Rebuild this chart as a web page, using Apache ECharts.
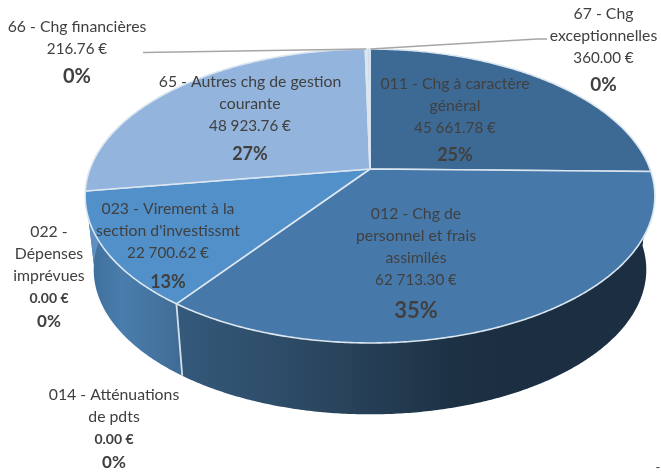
<!DOCTYPE html>
<html><head><meta charset="utf-8">
<style>html,body{margin:0;padding:0;background:#fff}#c{width:661px;height:472px}</style>
<script src="https://cdn.jsdelivr.net/npm/echarts@6/dist/echarts.min.js"></script>
</head><body><div id="c"></div>
<script>
const categories = ["011 - Chg à caractère\ngénéral","012 - Chg de\npersonnel et frais\nassimilés","014 - Atténuations\nde pdts","022 -\nDépenses\nimprévues","023 - Virement à la\nsection d'investissmt","65 - Autres chg de gestion\ncourante","66 - Chg financières","67 - Chg\nexceptionnelles"];
const values = [45661.78,62713.30,0,0,22700.62,48923.76,216.76,360.00];
const topColors = ["#3d6a94","#4679a9","#4679a9","#4679a9","#5190c9","#93b4dc","#a9c4e4","#c9d9ec"];
const labelCenters = [[455,73],[416,203],[114,384],[49,221],[168,198],[250,71],[77,16],[603.5,3]];
const pctSizes = [18,22,17,17,18,18,20,19];
const pctLines = [32,40,26,26,36,34,34,32];

const total = values.reduce((a,b)=>a+b,0);
const apex=[370,169], K=0.1837, A=280, B=142;
function rim(deg){const t=deg*Math.PI/180,u=Math.sin(t),v=-Math.cos(t),w=1-K*v;return [A*u/w,B*v/w];}
const pTop=d=>{const r=rim(d);return [apex[0]+r[0],apex[1]+r[1]];};
const pBot=d=>{const r=rim(d);return [apex[0]+0.97*r[0],243+0.985*r[1]];};
const cum=[0];values.forEach(v=>cum.push(cum[cum.length-1]+v/total*360));
function arc(a,b,f){const n=Math.max(2,Math.ceil((b-a)/0.5)),o=[];for(let i=0;i<=n;i++)o.push(f(a+(b-a)*i/n));return o;}
const seriesData=categories.map((c,i)=>({name:c.replace(/\n/g,' '),value:values[i]}));
const grad=(x1,x2,st)=>new echarts.graphic.LinearGradient(x1,0,x2,0,st,true);
const sideFills=[
 '#1c3043',
 grad(181,500,[{offset:0,color:'#34597b'},{offset:0.45,color:'#2a465f'},{offset:0.85,color:'#1d3144'},{offset:1,color:'#1c2f42'}]),
 '#4679a9','#4679a9',
 grad(90,181,[{offset:0,color:'#3f6f9c'},{offset:0.35,color:'#4a7dac'},{offset:1,color:'#3f6c96'}]),
 '#5f8fc0','#5f8fc0','#1c3043'];

function fmt(v){return v.toFixed(2).replace(/\B(?=(\d{3})+(?!\d))/g,' ')+' €';}
const fam='Lato';
const chart=echarts.init(document.getElementById('c'),null,{renderer:'canvas'});
chart.setOption({
 animation:false,
 backgroundColor:'#fff',
 series:[
 {type:'custom',coordinateSystem:'none',silent:true,z:1,data:seriesData,renderItem:(p,api)=>{
   const i=p.dataIndex;if(!api.value(0))return null;
   const a=cum[i],b=cum[i+1];
   return {type:'polygon',shape:{points:arc(a,b,pTop).concat(arc(a,b,pBot).reverse())},style:{fill:sideFills[i],stroke:null}};
 }},
 {type:'custom',coordinateSystem:'none',silent:true,z:2,data:seriesData,renderItem:(p,api)=>{
   const i=p.dataIndex;if(!api.value(0))return null;
   const a=cum[i],b=cum[i+1];
   return {type:'polygon',shape:{points:[apex].concat(arc(a,b,pTop))},style:{fill:topColors[i],stroke:'#dbe6f1',lineWidth:1.6,lineJoin:'round'}};
 }},
 {type:'custom',coordinateSystem:'none',silent:true,z:3,data:[cum[2]],renderItem:(p,api)=>{
   const d=api.value(0);
   return {type:'line',shape:{x1:pTop(d)[0],y1:pTop(d)[1],x2:pBot(d)[0],y2:pBot(d)[1]},style:{stroke:'#d5dfea',lineWidth:1.8}};
 }},
 {type:'custom',coordinateSystem:'none',silent:true,z:3,data:[(cum[6]+cum[7])/2,(cum[7]+cum[8])/2],renderItem:(p,api)=>{
   const q=pTop(api.value(0));
   const pts=p.dataIndex===0?[[143,52.5],q]:[[547,39],[537,39],[q[0]+2,q[1]]];
   return {type:'polyline',shape:{points:pts},style:{stroke:'#a6a6a6',lineWidth:1.4,fill:null}};
 }},
 {type:'custom',coordinateSystem:'none',silent:true,z:4,data:seriesData,renderItem:(p,api)=>{
   const i=p.dataIndex,v=api.value(0);
   const lines=categories[i].split('\n').map(s=>'{n|'+s+'}');
   lines.push((v?'{v|':'{z|')+fmt(v)+'}');
   lines.push('{p|'+Math.round(v/total*100)+'%}');
   return {type:'text',style:{text:lines.join('\n'),x:labelCenters[i][0],y:labelCenters[i][1],align:'center',verticalAlign:'top',fill:'#404040',
     fontFamily:fam,fontSize:15.8,
     rich:{
      n:{fontFamily:fam,fontSize:15.8,lineHeight:22,fill:'#404040',align:'center'},
      v:{fontFamily:fam,fontSize:15.2,lineHeight:22,fill:'#404040',align:'center'},
      z:{fontFamily:fam,fontSize:14,fontWeight:'bold',lineHeight:22,fill:'#404040',align:'center'},
      p:{fontFamily:fam,fontSize:pctSizes[i],fontWeight:'bold',lineHeight:pctLines[i],fill:'#404040',align:'center'}
     }}};
 }},
 {type:'custom',coordinateSystem:'none',silent:true,z:4,data:['-'],renderItem:()=>({type:'text',style:{text:'-',x:658,y:461,align:'center',verticalAlign:'top',fill:'#404040',fontFamily:fam,fontSize:13}})}
 ]
});
</script></body></html>
